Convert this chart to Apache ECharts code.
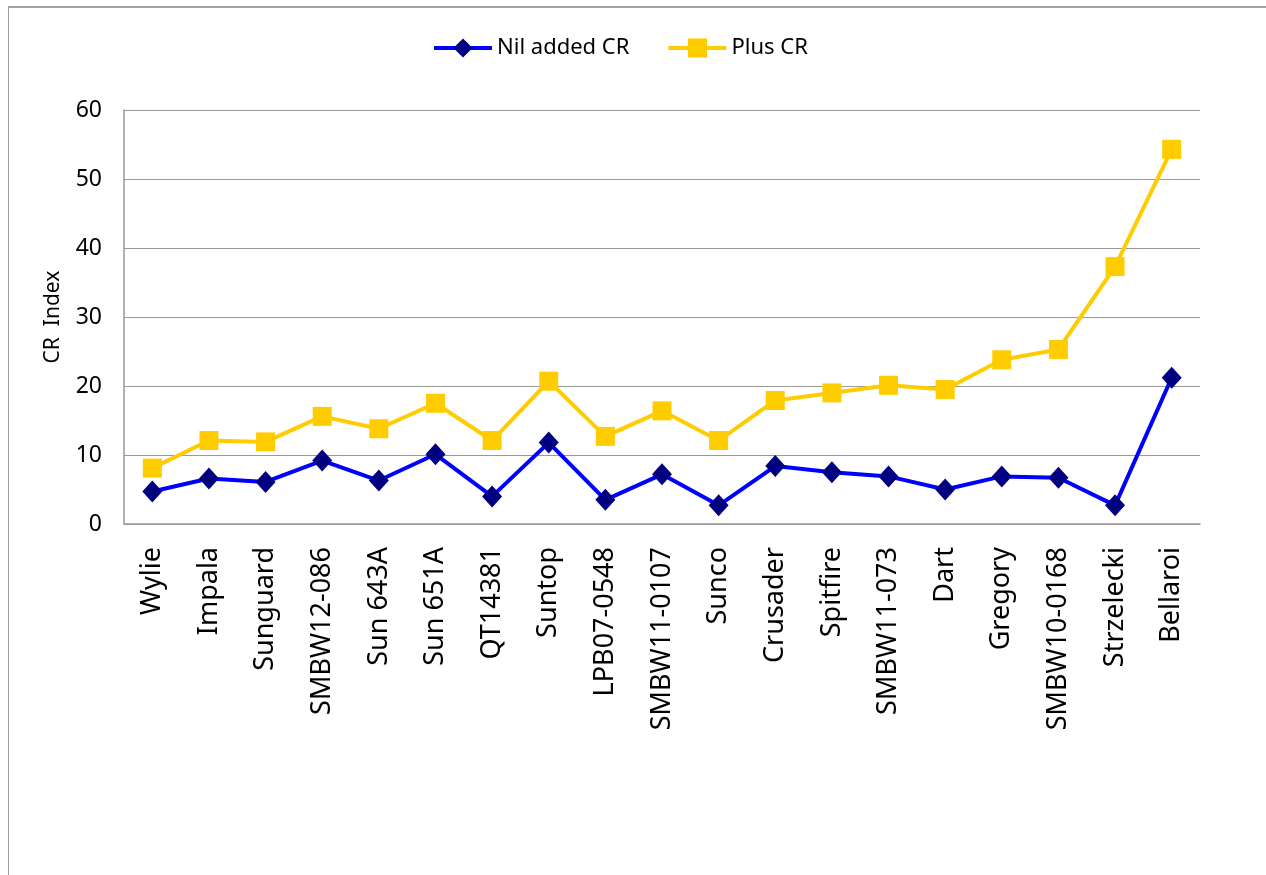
<!DOCTYPE html>
<html>
<head>
<meta charset="utf-8">
<script src="https://cdn.jsdelivr.net/npm/echarts@6/dist/echarts.min.js"></script>
<style>
  html, body { margin: 0; padding: 0; background: #fff; }
  #frame {
    position: absolute; left: 8px; top: 6px; width: 1300px; height: 900px;
    border-left: 1.5px solid #a0a0a0; border-top: 2px solid #a0a0a0;
  }
  #chart { position: absolute; left: 0; top: 0; width: 1266px; height: 875px; }
</style>
</head>
<body>
<div id="frame"></div>
<div id="chart"></div>
<script>
// 品种名称（横轴）
const varieties = ['Wylie', 'Impala', 'Sunguard', 'SMBW12-086', 'Sun 643A', 'Sun 651A',
  'QT14381', 'Suntop', 'LPB07-0548', 'SMBW11-0107', 'Sunco', 'Crusader', 'Spitfire',
  'SMBW11-073', 'Dart', 'Gregory', 'SMBW10-0168', 'Strzelecki', 'Bellaroi'];

// 两条序列
const nilAdded = [4.7, 6.6, 6.1, 9.2, 6.3, 10.1, 4.0, 11.8, 3.5, 7.2, 2.7, 8.4, 7.5,
  6.9, 5.0, 6.9, 6.7, 2.7, 21.2];
const plusCR = [8.1, 12.1, 11.9, 15.6, 13.8, 17.5, 12.1, 20.7, 12.7, 16.4, 12.1, 17.9, 19.0,
  20.1, 19.5, 23.8, 25.3, 37.3, 54.3];

const yTicks = { min: 0, max: 60, interval: 10 };

const chart = echarts.init(document.getElementById('chart'));
chart.setOption({
  animation: false,
  textStyle: { fontFamily: 'Noto Sans' },
  legend: {
    top: 32,
    left: 427,
    itemWidth: 58,
    itemHeight: 24,
    itemGap: 37,
    lineStyle: { width: 4 },
    textStyle: { fontSize: 22, color: '#000', fontFamily: 'Noto Sans' },
    data: ['Nil added CR', 'Plus CR']
  },
  grid: { left: 124, right: 66, top: 110, bottom: 351 },
  xAxis: {
    type: 'category',
    data: varieties,
    axisLine: { lineStyle: { color: '#999', width: 1.5 } },
    axisTick: { inside: true, length: 10, lineStyle: { color: '#aaa', width: 1.5 } },
    axisLabel: { rotate: 90, fontSize: 27, color: '#000', margin: 23, interval: 0 }
  },
  yAxis: {
    type: 'value',
    min: yTicks.min,
    max: yTicks.max,
    interval: yTicks.interval,
    name: 'CR  Index',
    nameLocation: 'middle',
    nameGap: 60,
    nameTextStyle: { fontSize: 21, color: '#000' },
    axisLine: { show: true, lineStyle: { color: '#999', width: 1.5 } },
    axisTick: { show: false },
    axisLabel: { fontSize: 23, color: '#000', margin: 22 },
    splitLine: { lineStyle: { color: '#999', width: 1 } }
  },
  series: [
    {
      name: 'Nil added CR',
      type: 'line',
      data: nilAdded,
      symbol: 'diamond',
      symbolSize: [20, 22],
      itemStyle: { color: '#000080' },
      lineStyle: { color: '#0000ff', width: 4 }
    },
    {
      name: 'Plus CR',
      type: 'line',
      data: plusCR,
      symbol: 'rect',
      symbolSize: 19,
      itemStyle: { color: '#ffcc00' },
      lineStyle: { color: '#ffcc00', width: 4 }
    }
  ]
});
</script>
</body>
</html>
